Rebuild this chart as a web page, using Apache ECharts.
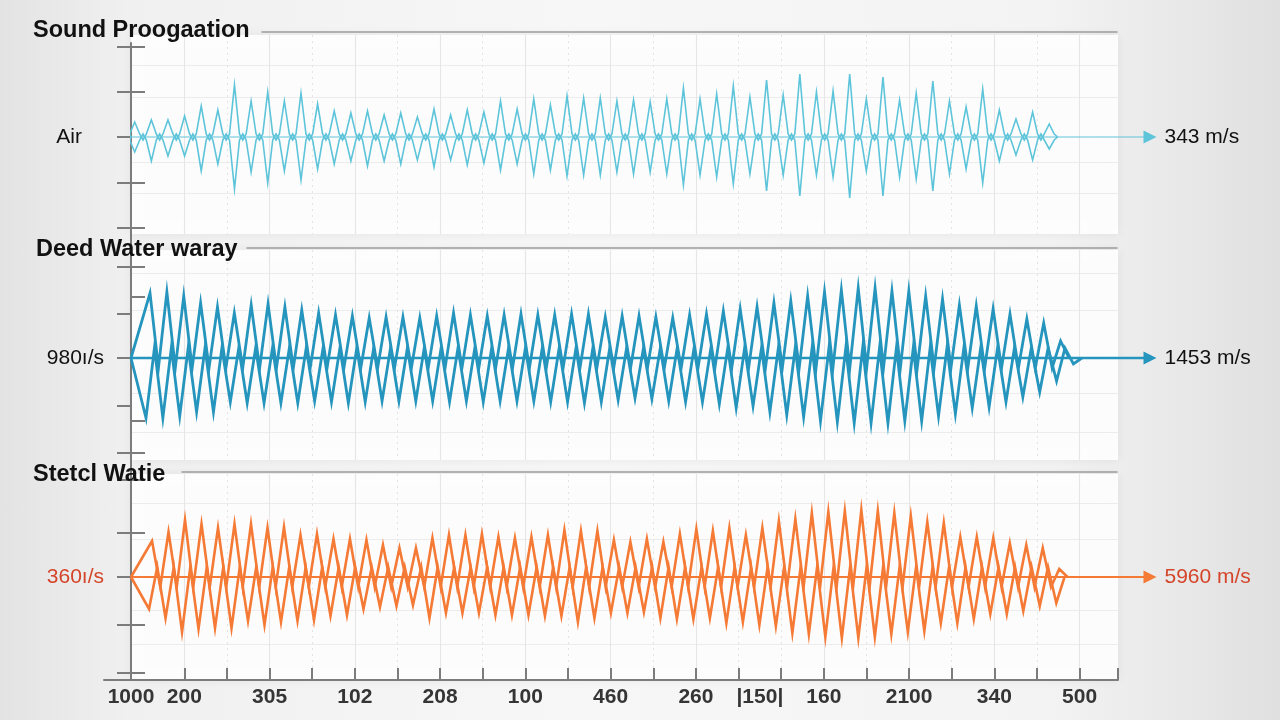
<!DOCTYPE html>
<html>
<head>
<meta charset="utf-8">
<title>Sound Proogaation</title>
<script src="https://cdn.jsdelivr.net/npm/echarts@6/dist/echarts.min.js"></script>
<style>
  html, body { margin: 0; padding: 0; }
  body {
    width: 1280px;
    height: 720px;
    overflow: hidden;
    background: linear-gradient(90deg, #e3e3e3 0%, #f0f0f0 10%, #f7f7f7 45%, #f3f3f3 82%, #e0e0e0 100%);
  }
  #chart { width: 1280px; height: 720px; }
</style>
</head>
<body>
<div id="chart"></div>
<script>
// bottom axis: one unit per tick, 0 sits on the first labelled tick
const xMin = -1.25;
const xMax = 21.9;
const xTicks = [0, 1, 2, 3, 4, 5, 6, 7, 8, 9, 10, 11, 12, 13, 14, 15, 16, 17, 18, 19, 20, 21, 21.9];
const xLabelValues = [-1.25, 0, 2, 4, 6, 8, 10, 12, 13.5, 15, 17, 19, 21];
const xLabels = ["1000", "200", "305", "102", "208", "100", "460", "260", "|150|", "160", "2100", "340", "500"];
const majorGrid = [0, 2, 4, 6, 8, 10, 12, 15, 17, 19, 21];
const minorGrid = [1, 3, 5, 7, 9, 11, 13, 14, 16, 18, 20];

const titles = ["Sound Proogaation", "Deed Water waray", "Stetcl Watie"];
const sideLabels = ["Air", "980ı/s", "360ı/s"];
const speeds = ["343 m/s", "1453 m/s", "5960 m/s"];

// y ticks of each strip (amplitude units, 0 = rest line)
const airTicks = [90, 45, 0, -46, -91];
const airInnerTicks = [90, 45, -46, -91];
const airRows = [72, 40, -25, -56];
const waterTicks = [91, 44, 0, -48, -95];
const waterInnerTicks = [91, 61, -63, -95];
const waterRows = [85, 48, -35, -74];
const steelTicks = [97, 44, 0, -48, -96];
const steelInnerTicks = [97, 44, -48, -96];
const steelRows = [74, 38, -33, -67];

// spike heights, left to right
const airPeaks = [15, 17, 17, 21, 31, 27, 52, 36, 45, 36, 44, 33, 26, 24, 26, 22, 24, 20, 28, 22, 27, 25, 36, 28, 38, 32, 41, 39, 39, 36, 37,
  35, 38, 49, 38, 43, 51, 40, 57, 42, 63, 45, 46, 63, 38, 60, 37, 44, 56, 36, 30, 48, 27, 18, 25, 13];
const airTroughs = [15, 24, 19, 19, 34, 27, 52, 35, 46, 34, 43, 32, 27, 24, 29, 24, 27, 23, 30, 23, 28, 26, 33, 27, 37, 33, 39, 38, 38, 35, 37,
  35, 37, 48, 38, 40, 47, 37, 54, 38, 59, 38, 40, 61, 34, 59, 40, 42, 54, 37, 32, 46, 24, 18, 23, 12];

const waterPeaks = [65, 66, 62, 55, 51, 45, 53, 54, 51, 48, 45, 43, 42, 40, 41, 41, 40, 42, 45, 43, 42, 43, 44, 43, 43, 44, 44, 41, 42, 42,
  41, 40, 43, 44, 47, 49, 51, 55, 57, 62, 66, 68, 70, 70, 67, 67, 62, 59, 53, 52, 49, 44, 39, 35, 17];
const waterTroughs = [60, 60, 58, 54, 54, 44, 45, 45, 45, 45, 43, 44, 45, 44, 43, 43, 43, 43, 44, 43, 44, 43, 43, 43, 44, 44, 45, 44, 42, 40,
  41, 43, 44, 44, 46, 50, 48, 54, 57, 59, 63, 64, 65, 65, 65, 63, 63, 58, 56, 50, 49, 44, 39, 34, 23, 6];

const steelPeaks = [36, 45, 57, 53, 49, 53, 53, 49, 50, 42, 43, 38, 38, 37, 32, 29, 29, 39, 42, 42, 43, 40, 39, 40, 42, 47, 46, 46, 37, 35,
  38, 35, 43, 48, 46, 49, 42, 49, 56, 58, 64, 65, 66, 67, 66, 64, 61, 55, 54, 40, 40, 39, 34, 32, 29, 8];
const steelTroughs = [32, 41, 55, 52, 51, 51, 44, 48, 45, 44, 43, 39, 38, 32, 30, 29, 28, 41, 36, 36, 36, 38, 38, 38, 39, 39, 45, 41, 36, 36,
  35, 41, 42, 42, 41, 46, 45, 48, 49, 56, 57, 60, 61, 61, 60, 57, 55, 54, 46, 46, 42, 37, 37, 34, 29, 26];

// where each trace sits along the bottom axis: first spike, spacing, peak lag
const airStart = -1.163, airStep = 0.39;
const waterStart = -0.898, waterStep = 0.3955, waterLag = 0.094;
const steelStart = -0.827, steelStep = 0.3869, steelLag = 0.07;
const arrowEnd = 22.67;
const arrowAxisMax = 23.15;

const FONT = "'Liberation Sans', Arial, Helvetica, sans-serif";
const GRAY = "#7c7c7c";

const layout = [
  { top: 35, height: 199, min: -97, max: 102, titleLeft: 33, titleTop: 19, ruleLeft: 262, ruleTop: 31,
    color: "#5ec4da", width: 1.6, midWidth: 1.2, base: 3, cross: 3, labelColor: "#111", labelMargin: 49 },
  { top: 250, height: 210, min: -102, max: 108, titleLeft: 36, titleTop: 238, ruleLeft: 247, ruleTop: 247,
    color: "#2595bd", width: 2.8, midWidth: 2.4, base: 0, cross: 10, labelColor: "#111", labelMargin: 27 },
  { top: 474, height: 206, min: -103, max: 103, titleLeft: 33, titleTop: 463, ruleLeft: 182, ruleTop: 471,
    color: "#f47a36", width: 2.6, midWidth: 2.2, base: 0, cross: 10, labelColor: "#d4452a", labelMargin: 27 }
];
const ticksByStrip = [airTicks, waterTicks, steelTicks];
const innerByStrip = [airInnerTicks, waterInnerTicks, steelInnerTicks];
const rowsByStrip = [airRows, waterRows, steelRows];
const traces = [
  { peaks: airPeaks, troughs: airTroughs, start: airStart, step: airStep, lag: 0 },
  { peaks: waterPeaks, troughs: waterTroughs, start: waterStart, step: waterStep, lag: waterLag },
  { peaks: steelPeaks, troughs: steelTroughs, start: steelStart, step: steelStep, lag: steelLag }
];

// one half of a trace: spikes on one side, crossing the rest line between them
function halfTrace(amps, sign, start, step, base, cross) {
  const pts = [[xMin, 0]];
  amps.forEach((a, i) => {
    const x = start + i * step;
    if (base) pts.push([x - 0.3 * step, sign * base]);
    pts.push([x, sign * a]);
    if (base) pts.push([x + 0.3 * step, sign * base]);
    pts.push([x + step / 2, i === amps.length - 1 ? 0 : -sign * cross]);
  });
  return pts;
}

const grids = [];
const xAxes = [];
const yAxes = [];
const series = [];
const hidden = { show: false };

layout.forEach((L, i) => {
  const g = grids.length;
  grids.push({
    left: 131, right: 162, top: L.top, height: L.height,
    show: true, backgroundColor: "rgba(255,255,255,0.88)", borderWidth: 0,
    shadowBlur: 10, shadowColor: "rgba(0,0,0,0.07)", outerBoundsMode: "none"
  });
  const xi = xAxes.length;
  xAxes.push({
    gridIndex: g, type: "value", position: "bottom", min: xMin, max: xMax,
    axisLine: { show: false, onZero: false }, axisLabel: hidden,
    axisTick: { show: false, customValues: minorGrid },
    splitLine: { show: true, lineStyle: { color: "#e3e3e3", width: 1, type: [2, 4] } }
  });
  xAxes.push({
    gridIndex: g, type: "value", position: "bottom", min: xMin, max: xMax,
    axisLine: { show: false, onZero: false }, axisLabel: hidden,
    axisTick: { show: false, customValues: majorGrid },
    splitLine: { show: true, lineStyle: { color: "#e6e6e6", width: 1.2 } }
  });
  if (i === 2) {
    // visible bottom axis under the steel strip
    xAxes.push({
      gridIndex: g, type: "value", position: "bottom", min: xMin, max: xMax,
      axisLine: { show: true, onZero: false, lineStyle: { color: GRAY, width: 2 } },
      axisTick: { show: true, inside: true, length: 12, customValues: xTicks, lineStyle: { color: GRAY, width: 2 } },
      axisLabel: {
        show: true, customValues: xLabelValues, margin: 7,
        formatter: (v) => {
          const k = xLabelValues.findIndex((u) => Math.abs(u - v) < 1e-6);
          return k < 0 ? "" : xLabels[k];
        },
        color: "#353535", fontSize: 21, fontWeight: "bold", fontFamily: FONT
      },
      splitLine: hidden
    });
  }
  const yi = yAxes.length;
  yAxes.push({
    gridIndex: g, type: "value", min: L.min, max: L.max, position: "left",
    axisLine: { show: false, onZero: false },
    axisTick: { show: true, inside: false, length: 14, customValues: ticksByStrip[i],
      lineStyle: { color: GRAY, width: 2 } },
    axisLabel: { show: true, customValues: [0], margin: L.labelMargin, formatter: () => sideLabels[i],
      color: L.labelColor, fontSize: 21, fontFamily: FONT },
    splitLine: hidden
  });
  yAxes.push({
    gridIndex: g, type: "value", min: L.min, max: L.max, position: "left",
    axisLine: { show: false, onZero: false },
    axisTick: { show: true, inside: true, length: 14, customValues: innerByStrip[i],
      lineStyle: { color: GRAY, width: 2 } },
    axisLabel: hidden, splitLine: hidden
  });
  yAxes.push({
    gridIndex: g, type: "value", min: L.min, max: L.max, position: "left",
    axisLine: { show: false, onZero: false }, axisLabel: hidden,
    axisTick: { show: false, customValues: rowsByStrip[i] },
    splitLine: { show: true, lineStyle: { color: "#ececec", width: 1.2 } }
  });

  const T = traces[i];
  const lineStyle = { color: L.color, width: L.width, join: "miter" };
  series.push({ type: "line", xAxisIndex: xi, yAxisIndex: yi, z: 3, symbol: "none", silent: true,
    lineStyle: lineStyle, data: halfTrace(T.peaks, 1, T.start + T.lag, T.step, L.base, L.cross) });
  series.push({ type: "line", xAxisIndex: xi, yAxisIndex: yi, z: 3, symbol: "none", silent: true,
    lineStyle: lineStyle, data: halfTrace(T.troughs, -1, T.start, T.step, L.base, L.cross) });

  // rest line running out to the arrow and speed, on a wider transparent grid
  const og = grids.length;
  grids.push({ left: 131, right: 1280 - 131 - (arrowAxisMax - xMin) * 42.6, top: L.top, height: L.height, show: false });
  const ox = xAxes.length;
  xAxes.push({ gridIndex: og, type: "value", min: xMin, max: arrowAxisMax, show: false });
  const oy = yAxes.length;
  yAxes.push({ gridIndex: og, type: "value", min: L.min, max: L.max, show: false });
  series.push({
    type: "line", xAxisIndex: ox, yAxisIndex: oy, z: 2, silent: true,
    symbol: "triangle", symbolSize: 13, symbolRotate: -90,
    itemStyle: { color: L.color },
    lineStyle: { color: L.color, width: L.midWidth },
    data: [
      { value: [xMin, 0], symbol: "none" },
      { value: [arrowEnd, 0],
        label: { show: true, position: "right", distance: 8, formatter: speeds[i],
          color: i === 2 ? L.labelColor : "#111", fontSize: 21, fontFamily: FONT } }
    ]
  });

  // rule after the strip title
  const rg = grids.length;
  grids.push({ left: L.ruleLeft, right: 163, top: L.ruleTop, height: 1, show: false });
  xAxes.push({
    gridIndex: rg, type: "value", position: "bottom", min: 0, max: 1,
    axisLine: { show: true, onZero: false, lineStyle: { color: "#9c9c9c", width: 1.5 } },
    axisTick: hidden, axisLabel: hidden, splitLine: hidden
  });
  yAxes.push({ gridIndex: rg, type: "value", show: false });
});

// one vertical spine through all strips
const sg = grids.length;
grids.push({ left: 104, right: 1149, top: 43, bottom: 40, show: false });
xAxes.push({
  gridIndex: sg, type: "value", position: "bottom", min: 0, max: 1,
  axisLine: { show: true, onZero: false, lineStyle: { color: GRAY, width: 2 } },
  axisTick: hidden, axisLabel: hidden, splitLine: hidden
});
yAxes.push({
  gridIndex: sg, type: "value", min: 0, max: 1, position: "right",
  axisLine: { show: true, onZero: false, lineStyle: { color: GRAY, width: 2 } },
  axisTick: hidden, axisLabel: hidden, splitLine: hidden
});

const option = {
  animation: false,
  title: titles.map((t, i) => ({
    text: t, left: layout[i].titleLeft, top: layout[i].titleTop, padding: 0,
    textStyle: { fontFamily: FONT, fontWeight: "bold", fontSize: 23.5, color: "#111" }
  })),
  grid: grids,
  xAxis: xAxes,
  yAxis: yAxes,
  series: series
};

const myChart = echarts.init(document.getElementById("chart"));
myChart.setOption(option);
</script>
</body>
</html>
